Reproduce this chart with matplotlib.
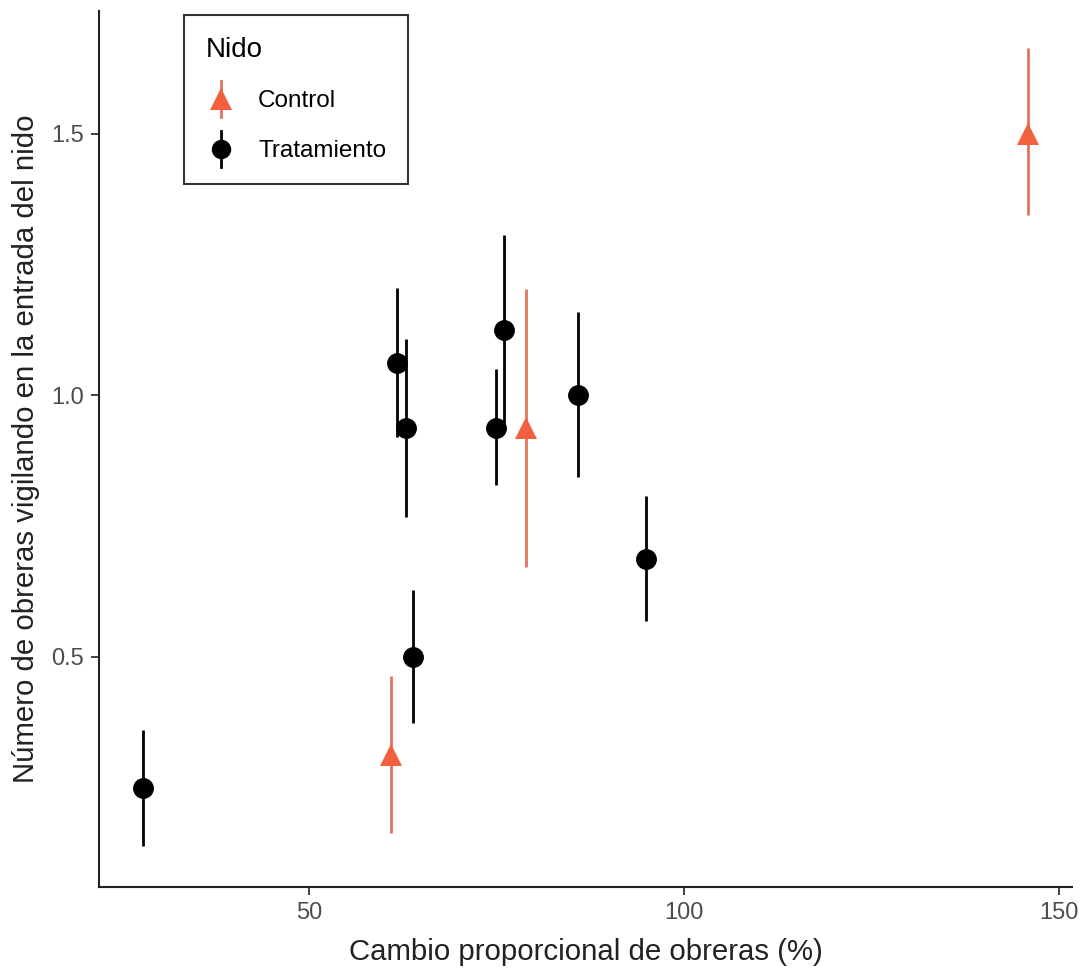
import matplotlib
matplotlib.use("Agg")
import matplotlib.pyplot as plt
from matplotlib.lines import Line2D
from matplotlib.legend_handler import HandlerBase

plt.rcParams['font.family'] = ['Liberation Sans', 'DejaVu Sans']

# Data: Tratamiento
trat_x = [27.9, 61.7, 62.9, 63.9, 74.9, 76.0, 85.9, 94.9]
trat_y = [0.25, 1.0625, 0.9375, 0.50, 0.9375, 1.125, 1.0, 0.6875]
trat_lo = [0.139, 0.921, 0.768, 0.374, 0.829, 0.947, 0.844, 0.569]
trat_hi = [0.360, 1.206, 1.108, 0.628, 1.051, 1.307, 1.160, 0.808]

# Data: Control
ctrl_x = [60.9, 78.9, 145.9]
ctrl_y = [0.3125, 0.9375, 1.50]
ctrl_lo = [0.163, 0.672, 1.345]
ctrl_hi = [0.464, 1.204, 1.664]

xticks = [50, 100, 150]
yticks = [0.5, 1.0, 1.5]
ytick_labels = ["0.5", "1.0", "1.5"]
legend_labels = ["Control", "Tratamiento"]

ctrl_color = "#F2603F"
ctrl_err_color = "#E0745E"
trat_color = "black"

fig = plt.figure(figsize=(10.84, 9.76), dpi=100)
ax = fig.add_axes([99/1084, 89/976, (1072-99)/1084, (887-11)/976])

for x, lo, hi in zip(trat_x, trat_lo, trat_hi):
    ax.vlines(x, lo, hi, color=trat_color, lw=2.0, zorder=2)
ax.plot(trat_x, trat_y, 'o', color=trat_color, ms=14, zorder=3)

for x, lo, hi in zip(ctrl_x, ctrl_lo, ctrl_hi):
    ax.vlines(x, lo, hi, color=ctrl_err_color, lw=2.0, zorder=2)
ax.plot(ctrl_x, ctrl_y, '^', color=ctrl_color, ms=16, zorder=3, markeredgewidth=0)

ax.set_xlim(22.0, 151.7)
ax.set_ylim(0.060, 1.735)
ax.set_xticks(xticks)
ax.set_yticks(yticks)
ax.set_yticklabels(ytick_labels)

for s in ['top', 'right']:
    ax.spines[s].set_visible(False)
for s in ['left', 'bottom']:
    ax.spines[s].set_linewidth(1.5)
    ax.spines[s].set_color('#222222')

ax.tick_params(axis='both', length=6, width=1.3, color='#333333',
               labelsize=17, labelcolor='#4D4D4D', pad=5)

ax.set_xlabel("Cambio proporcional de obreras (%)", fontsize=21.2, color='#222222', labelpad=10)
ax.set_ylabel("Número de obreras vigilando en la entrada del nido", fontsize=21.2,
              color='#222222', labelpad=8)


class VHandler(HandlerBase):
    def __init__(self, color, ecolor, marker, ms):
        super().__init__()
        self.color = color
        self.ecolor = ecolor
        self.marker = marker
        self.ms = ms

    def create_artists(self, legend, orig_handle, xdescent, ydescent, width, height, fontsize, trans):
        cx = width / 2 - xdescent
        cy = height / 2 - ydescent
        half = fontsize * 0.75
        l = Line2D([cx, cx], [cy - half, cy + half], color=self.ecolor, lw=2,
                   transform=trans)
        m = Line2D([cx], [cy], marker=self.marker, color=self.color, ls='None', ms=self.ms,
                   markeredgewidth=0, transform=trans)
        return [l, m]


hc = Line2D([0], [0])
ht = Line2D([0], [0])
leg = ax.legend([hc, ht], legend_labels,
                handler_map={hc: VHandler(ctrl_color, ctrl_err_color, '^', 16),
                             ht: VHandler(trat_color, trat_color, 'o', 14)},
                title="Nido", loc='upper left', bbox_to_anchor=((184-99)/973, (887-15)/876),
                fontsize=17.5, title_fontsize=20, frameon=True, fancybox=False,
                borderpad=0.9, labelspacing=1.0, handlelength=1.25, handletextpad=0.9,
                handleheight=1.15, borderaxespad=0)
leg._legend_box.align = "left"
leg.get_frame().set_edgecolor('black')
leg.get_frame().set_linewidth(1.5)

fig.savefig("out.png", dpi=100)
